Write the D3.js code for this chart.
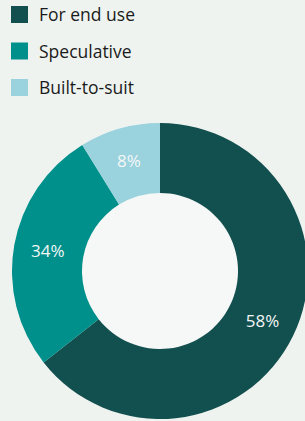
<!DOCTYPE html>
<html>
<head>
<meta charset="utf-8">
<script src="https://cdn.jsdelivr.net/npm/d3@7"></script>
<style>
  html, body { margin: 0; padding: 0; background: #eff3f0; }
  svg { display: block; }
</style>
</head>
<body>
<svg width="305" height="421"></svg>
<script>
const svg = d3.select("svg");
const width = +svg.attr("width");
const height = +svg.attr("height");

// ====== Data ======
const categories = ["For end use", "Speculative", "Built-to-suit"];
// slice sizes as drawn in the picture
const shares = [64.4, 26.8, 8.8];
// labels printed on the slices
const labels = ["58%", "34%", "8%"];
const colors = ["#124f4f", "#00908c", "#9ad2dd"];

const data = categories.map((c, i) => ({name: c, value: shares[i], label: labels[i]}));

// ====== Legend ======
const legend = svg.append("g")
    .selectAll("g")
    .data(data)
    .enter().append("g")
        .attr("transform", (d, i) => `translate(11, ${6 + i * 36.5})`);

legend.append("rect")
    .attr("width", 17)
    .attr("height", 17)
    .attr("fill", (d, i) => colors[i]);

legend.append("text")
    .attr("x", 28)
    .attr("y", 15)
    .attr("font-family", "'Open Sans', sans-serif")
    .attr("font-size", 17.5)
    .attr("fill", "#1b1b1b")
    .text(d => d.name);

// ====== Donut ======
const cx = 160, cy = 271;
const outerR = 148, innerR = 78;

const pie = d3.pie()
    .value(d => d.value)
    .sort(null);

const arc = d3.arc()
    .innerRadius(innerR)
    .outerRadius(outerR);

const labelArc = d3.arc()
    .innerRadius(114)
    .outerRadius(114);

const donut = svg.append("g")
    .attr("transform", `translate(${cx}, ${cy})`);

donut.append("circle")
    .attr("r", innerR)
    .attr("fill", "#f6f8f7");

donut.selectAll("path")
    .data(pie(data))
    .enter().append("path")
        .attr("d", arc)
        .attr("fill", (d, i) => colors[i]);

donut.selectAll("text")
    .data(pie(data))
    .enter().append("text")
        .attr("transform", d => `translate(${labelArc.centroid(d)})`)
        .attr("text-anchor", "middle")
        .attr("dy", "0.35em")
        .attr("font-family", "'Open Sans', sans-serif")
        .attr("font-size", 17)
        .attr("fill", "#f4f7f6")
        .text(d => d.data.label);
</script>
</body>
</html>
